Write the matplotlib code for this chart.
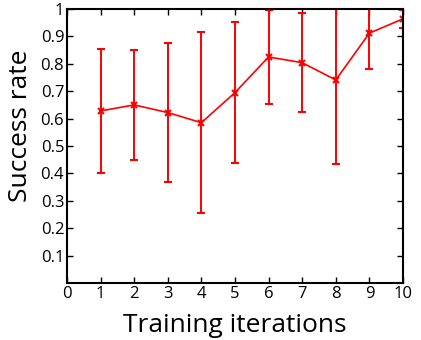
import matplotlib
matplotlib.use("Agg")
import matplotlib.pyplot as plt

iterations = [1, 2, 3, 4, 5, 6, 7, 8, 9, 10]
success = [0.628, 0.650, 0.622, 0.585, 0.695, 0.825, 0.804, 0.741, 0.912, 0.964]
errors = [0.227, 0.201, 0.254, 0.330, 0.256, 0.172, 0.180, 0.308, 0.130, 0.034]
xticks = list(range(0, 11))
yticks = [0.1, 0.2, 0.3, 0.4, 0.5, 0.6, 0.7, 0.8, 0.9, 1.0]
yticklabels = ["0.1", "0.2", "0.3", "0.4", "0.5", "0.6", "0.7", "0.8", "0.9", "1"]

plt.rcParams['font.family'] = ['Open Sans', 'DejaVu Sans']

fig = plt.figure(figsize=(4.21, 3.4), dpi=100)
ax = fig.add_axes([67/421, 57/340, 336/421, 274/340])

ax.errorbar(iterations, success, yerr=errors, color='red', ecolor='red',
            elinewidth=1.4, capsize=3, capthick=1.4, linewidth=1.2,
            marker='x', markersize=4, markeredgewidth=1.5)

ax.set_xlim(0, 10)
ax.set_ylim(0, 1)
ax.set_xticks(xticks)
ax.set_yticks(yticks)
ax.set_yticklabels(yticklabels)
ax.tick_params(direction='in', top=True, right=True, length=4, width=1,
               labelsize=12, pad=2)
for s in ax.spines.values():
    s.set_linewidth(1.5)
ax.set_xlabel("Training iterations", fontsize=19, labelpad=8)
ax.set_ylabel("Success rate", fontsize=19)
ax.yaxis.set_label_coords(-0.10, 0.575)

fig.savefig("out.png", dpi=100)
